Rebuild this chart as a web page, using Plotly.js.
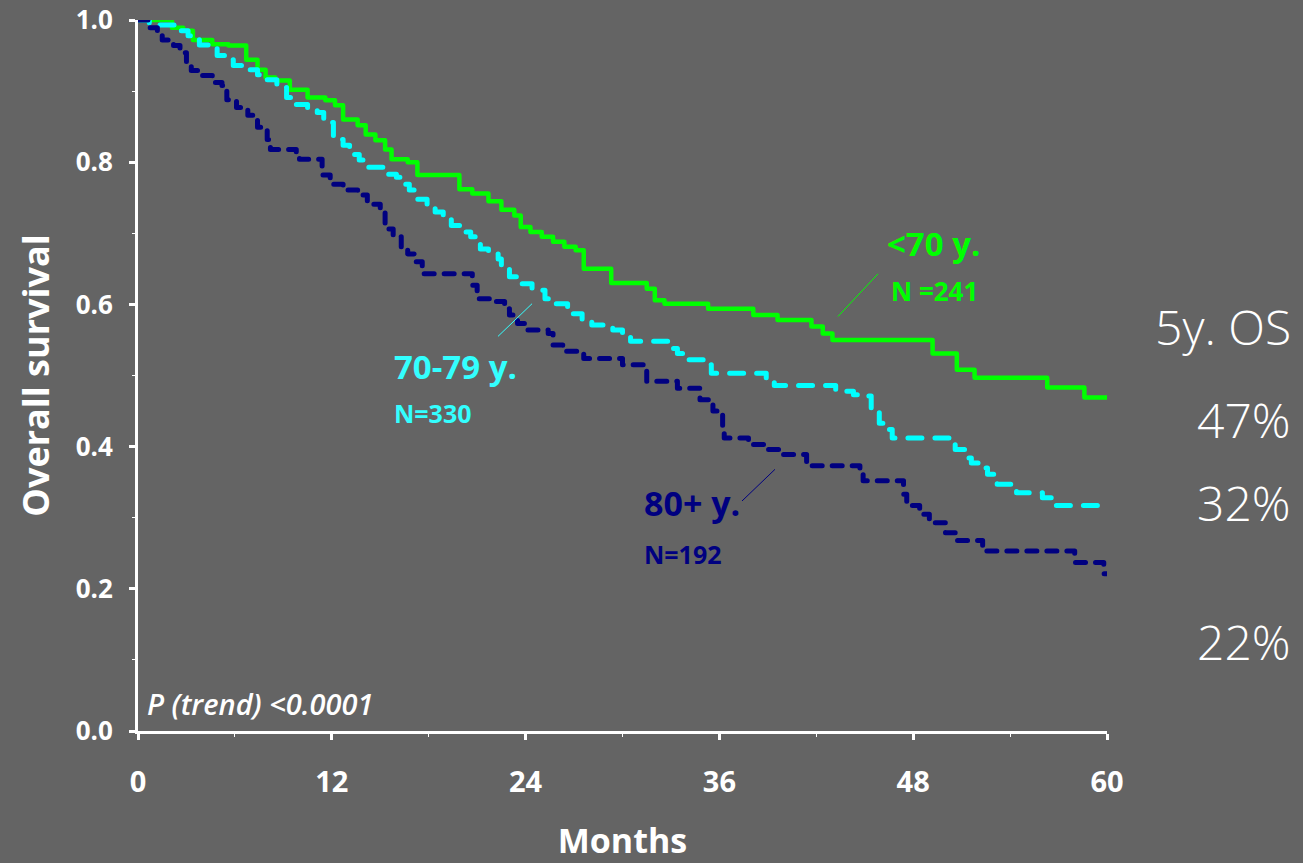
<!DOCTYPE html>
<html>
<head>
<meta charset="utf-8">
<script src="https://cdn.plot.ly/plotly-3.0.1.min.js"></script>
<style>
  html, body { margin: 0; padding: 0; background: rgb(100,100,100); }
  #chart { width: 1303px; height: 863px; }
  #chart .scatterlayer .js-line { stroke-linecap: round; stroke-linejoin: round; }
</style>
</head>
<body>
<div id="chart"></div>
<script>
// ---- Data ----
const under70Months = [0, 2.1, 2.8, 3.4, 4.6, 5.6, 6.7, 7.4, 7.9, 8.5, 9.4, 10.5, 11.6, 12.2, 12.7, 13.6, 14.1, 14.7, 15.3, 15.7, 16.7, 17.3, 19.9, 20.7, 21.7, 22.5, 23.3, 23.7, 24.3, 25.0, 25.7, 26.4, 27.1, 27.6, 29.3, 31.5, 32.0, 32.6, 35.3, 38.1, 39.6, 41.7, 42.4, 43.0, 49.2, 50.7, 51.8, 56.3, 58.6, 60];
const under70Surv   = [1.0, 0.989, 0.985, 0.972, 0.966, 0.964, 0.944, 0.930, 0.919, 0.915, 0.902, 0.891, 0.887, 0.880, 0.860, 0.852, 0.839, 0.831, 0.818, 0.804, 0.800, 0.782, 0.762, 0.756, 0.745, 0.733, 0.725, 0.709, 0.702, 0.695, 0.688, 0.681, 0.676, 0.650, 0.630, 0.622, 0.606, 0.601, 0.594, 0.585, 0.578, 0.569, 0.559, 0.550, 0.531, 0.508, 0.497, 0.483, 0.469, 0.469];

const age7079Months = [0, 0.7, 2.6, 3.1, 3.8, 4.5, 4.9, 5.5, 5.9, 6.7, 7.4, 8.0, 8.6, 9.2, 9.8, 10.5, 11.1, 11.5, 12.1, 12.7, 13.1, 13.7, 14.2, 15.2, 16.0, 16.4, 16.8, 17.3, 17.9, 18.4, 18.9, 19.4, 20.1, 20.6, 21.2, 21.7, 22.3, 22.5, 23.0, 23.5, 24.4, 25.2, 25.9, 26.6, 26.9, 27.5, 28.1, 28.8, 29.4, 30.0, 30.5, 32.8, 33.4, 34.0, 35.3, 35.5, 38.9, 39.4, 43.2, 44.3, 44.9, 45.4, 45.9, 46.4, 46.7, 50.4, 50.6, 51.4, 51.6, 52.3, 52.6, 53.2, 54.4, 56.0, 56.8, 60];
const age7079Surv   = [1.0, 0.993, 0.985, 0.978, 0.965, 0.961, 0.950, 0.944, 0.936, 0.930, 0.923, 0.916, 0.905, 0.891, 0.881, 0.874, 0.870, 0.856, 0.832, 0.824, 0.811, 0.803, 0.793, 0.783, 0.779, 0.769, 0.761, 0.748, 0.741, 0.730, 0.720, 0.711, 0.702, 0.695, 0.678, 0.671, 0.664, 0.650, 0.639, 0.629, 0.620, 0.608, 0.601, 0.594, 0.587, 0.578, 0.571, 0.567, 0.564, 0.557, 0.548, 0.538, 0.531, 0.522, 0.515, 0.503, 0.496, 0.486, 0.478, 0.473, 0.471, 0.454, 0.433, 0.424, 0.412, 0.403, 0.396, 0.384, 0.377, 0.370, 0.361, 0.347, 0.335, 0.328, 0.317, 0.317];

const age80Months = [0, 0.7, 1.2, 1.5, 2.2, 2.6, 3.0, 3.3, 4.0, 4.6, 5.2, 5.5, 6.1, 6.8, 7.4, 8.0, 8.2, 9.8, 10.0, 11.4, 11.9, 12.7, 13.6, 14.2, 15.0, 15.3, 15.8, 16.3, 16.7, 17.2, 17.6, 20.7, 21.0, 22.0, 22.7, 23.0, 23.5, 24.1, 25.4, 25.7, 26.3, 27.6, 30.0, 31.5, 33.4, 34.8, 35.6, 36.2, 36.3, 37.8, 38.9, 39.9, 41.4, 44.7, 44.9, 47.4, 47.6, 48.4, 49.0, 50.0, 50.6, 52.3, 58.0, 59.8, 60];
const age80Surv   = [1.0, 0.989, 0.982, 0.972, 0.964, 0.954, 0.940, 0.929, 0.922, 0.912, 0.908, 0.888, 0.877, 0.866, 0.849, 0.832, 0.818, 0.814, 0.804, 0.782, 0.769, 0.761, 0.754, 0.741, 0.730, 0.706, 0.695, 0.678, 0.671, 0.660, 0.643, 0.627, 0.608, 0.604, 0.594, 0.585, 0.573, 0.564, 0.559, 0.543, 0.534, 0.524, 0.515, 0.492, 0.482, 0.466, 0.450, 0.426, 0.412, 0.403, 0.396, 0.389, 0.373, 0.361, 0.352, 0.333, 0.317, 0.305, 0.293, 0.279, 0.268, 0.253, 0.237, 0.221, 0.221];

const xTickVals = [0, 12, 24, 36, 48, 60];
const yTickVals = [0, 0.2, 0.4, 0.6, 0.8, 1.0];

const groupLabels = ['<70 y.', '70-79 y.', '80+ y.'];
const groupN = ['N =241', 'N=330', 'N=192'];
const fiveYearOS = ['47%', '32%', '22%'];

// ---- Styling ----
const BG = 'rgb(100,100,100)';
const GREEN = '#00FF00';
const CYAN = '#00FFFF';
const CYAN_TEXT = '#33FFFF';
const NAVY = '#000080';
const FONT = 'Open Sans, Lato, sans-serif';

const traces = [
  { x: under70Months, y: under70Surv, type: 'scatter', mode: 'lines', line: { shape: 'hv', color: GREEN, width: 4.5 }, cliponaxis: false, name: groupLabels[0] },
  { x: age7079Months, y: age7079Surv, type: 'scatter', mode: 'lines', line: { shape: 'hv', color: CYAN, width: 5, dash: '14px,13px' }, cliponaxis: false, name: groupLabels[1] },
  { x: age80Months, y: age80Surv, type: 'scatter', mode: 'lines', line: { shape: 'hv', color: NAVY, width: 5, dash: '10px,10px' }, cliponaxis: false, name: groupLabels[2] }
];

const layout = {
  width: 1303, height: 863,
  paper_bgcolor: BG, plot_bgcolor: BG,
  margin: { l: 138, r: 196, t: 20, b: 132 },
  showlegend: false,
  font: { family: FONT, color: 'white' },
  xaxis: {
    range: [0, 60], tickvals: xTickVals, ticktext: xTickVals.map(String),
    showgrid: false, zeroline: false, showline: true, linecolor: 'white', linewidth: 3,
    ticks: 'outside', ticklen: 6, tickwidth: 3, tickcolor: 'white',
    ticklabelstandoff: 17, ticklabeloverflow: 'allow',
    minor: { dtick: 6, tick0: 0, ticks: 'outside', ticklen: 3, tickwidth: 1, tickcolor: 'white', showgrid: false },
    tickfont: { family: FONT, size: 29, color: 'white', weight: 700 },
    title: { text: 'Months', font: { family: FONT, size: 34, color: 'white', weight: 700 }, standoff: 31 },
    fixedrange: true
  },
  yaxis: {
    range: [0, 1], tickvals: yTickVals, ticktext: yTickVals.map(v => v.toFixed(1)),
    showgrid: false, zeroline: false, showline: true, linecolor: 'white', linewidth: 3,
    ticks: 'outside', ticklen: 6, tickwidth: 3, tickcolor: 'white',
    ticklabelstandoff: 11, ticklabeloverflow: 'allow',
    minor: { dtick: 0.1, tick0: 0, ticks: 'outside', ticklen: 3, tickwidth: 1, tickcolor: 'white', showgrid: false },
    tickfont: { family: FONT, size: 26, color: 'white', weight: 700 },
    title: { text: 'Overall survival', font: { family: FONT, size: 36, color: 'white', weight: 700 }, standoff: 16 },
    fixedrange: true
  },
  annotations: [
    { text: groupLabels[0], x: 46.25, y: 0.685, xref: 'x', yref: 'y', xanchor: 'left', yanchor: 'middle', showarrow: false, font: { family: FONT, size: 33, color: GREEN, weight: 700 } },
    { text: groupN[0], x: 46.5, y: 0.619, xref: 'x', yref: 'y', xanchor: 'left', yanchor: 'middle', showarrow: false, font: { family: FONT, size: 26, color: GREEN, weight: 700 } },
    { text: groupLabels[1], x: 15.73, y: 0.513, xref: 'x', yref: 'y', xanchor: 'left', yanchor: 'middle', showarrow: false, font: { family: FONT, size: 33, color: CYAN_TEXT, weight: 700 } },
    { text: groupN[1], x: 15.73, y: 0.447, xref: 'x', yref: 'y', xanchor: 'left', yanchor: 'middle', showarrow: false, font: { family: FONT, size: 25, color: CYAN_TEXT, weight: 700 } },
    { text: groupLabels[2], x: 31.21, y: 0.321, xref: 'x', yref: 'y', xanchor: 'left', yanchor: 'middle', showarrow: false, font: { family: FONT, size: 34, color: NAVY, weight: 700 } },
    { text: groupN[2], x: 31.21, y: 0.249, xref: 'x', yref: 'y', xanchor: 'left', yanchor: 'middle', showarrow: false, font: { family: FONT, size: 25, color: NAVY, weight: 700 } },
    { text: '<i>P (trend) &lt;0.0001</i>', x: 0.43, y: 0.038, xref: 'x', yref: 'y', xanchor: 'left', yanchor: 'middle', showarrow: false, font: { family: FONT, size: 29, color: 'white', weight: 600 } },
    { text: '5y. OS', x: 1.192, y: 0.569, xref: 'paper', yref: 'paper', xanchor: 'right', yanchor: 'middle', showarrow: false, font: { family: FONT, size: 48, color: 'white', weight: 300 } },
    { text: fiveYearOS[0], x: 1.192, y: 0.438, xref: 'paper', yref: 'paper', xanchor: 'right', yanchor: 'middle', showarrow: false, font: { family: FONT, size: 48, color: 'white', weight: 300 } },
    { text: fiveYearOS[1], x: 1.192, y: 0.322, xref: 'paper', yref: 'paper', xanchor: 'right', yanchor: 'middle', showarrow: false, font: { family: FONT, size: 48, color: 'white', weight: 300 } },
    { text: fiveYearOS[2], x: 1.192, y: 0.126, xref: 'paper', yref: 'paper', xanchor: 'right', yanchor: 'middle', showarrow: false, font: { family: FONT, size: 48, color: 'white', weight: 300 } }
  ],
  shapes: [
    { type: 'line', xref: 'x', yref: 'y', x0: 43.34, y0: 0.583, x1: 45.82, y1: 0.643, line: { color: GREEN, width: 1 } },
    { type: 'line', xref: 'x', yref: 'y', x0: 22.29, y0: 0.555, x1: 24.40, y1: 0.601, line: { color: CYAN_TEXT, width: 1 } },
    { type: 'line', xref: 'x', yref: 'y', x0: 37.40, y0: 0.3235, x1: 39.44, y1: 0.368, line: { color: NAVY, width: 1 } }
  ]
};

Plotly.newPlot('chart', traces, layout, { displayModeBar: false, staticPlot: true });
</script>
</body>
</html>
